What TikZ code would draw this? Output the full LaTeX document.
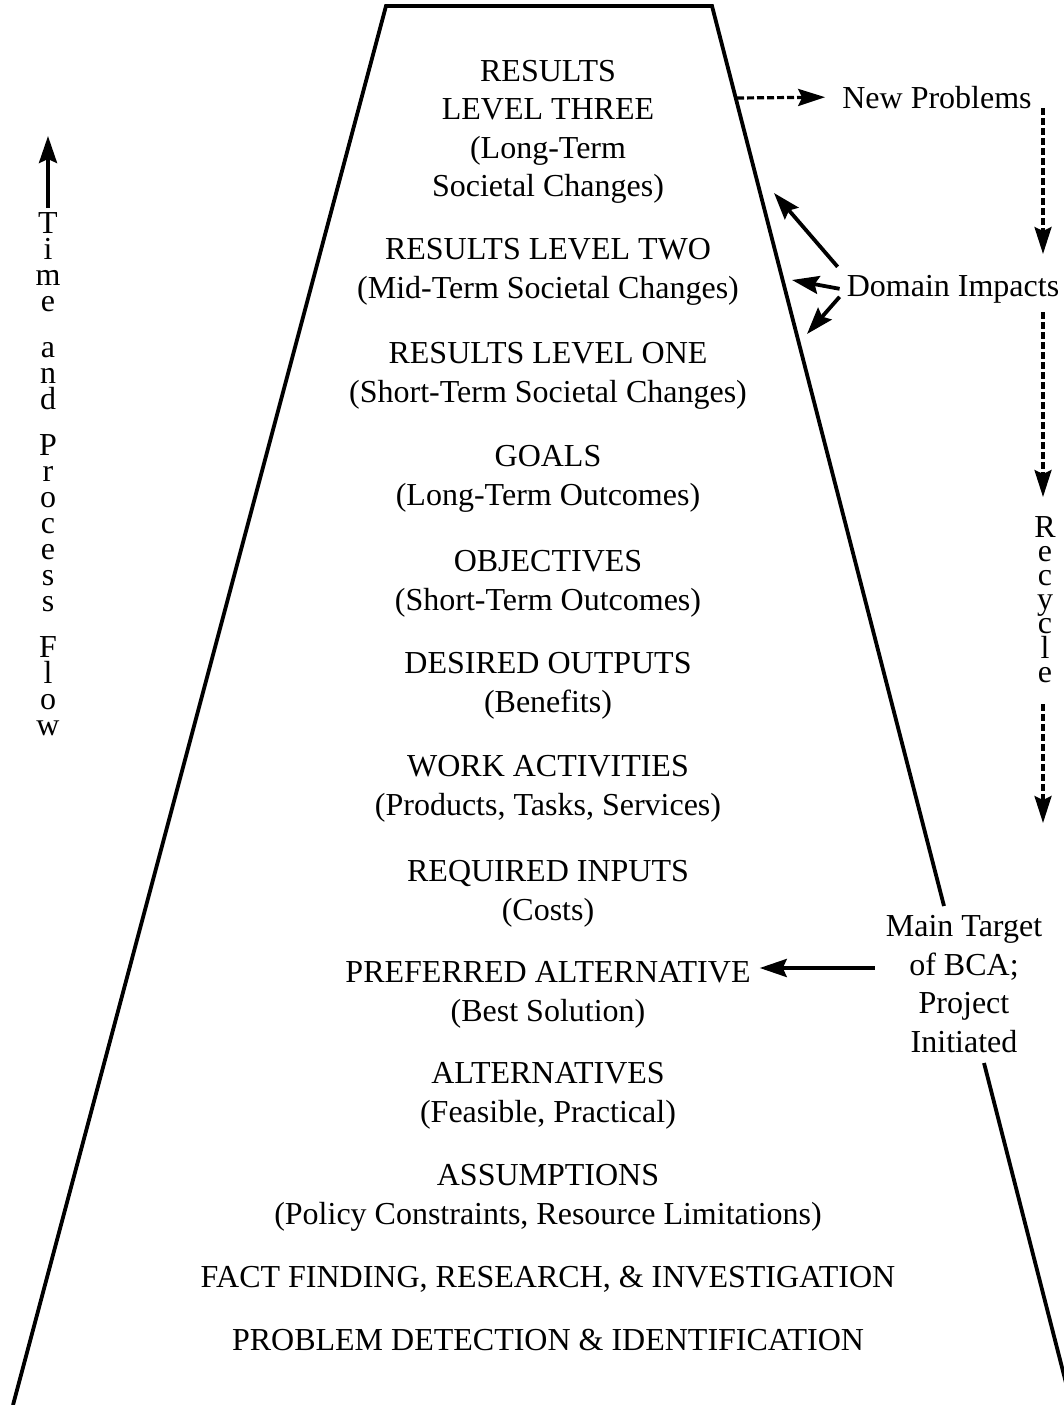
\documentclass[tikz,border=0pt]{standalone}
\usepackage{fontspec}
\setmainfont{Liberation Serif}
\usetikzlibrary{arrows.meta,calc}
\begin{document}
\begin{tikzpicture}[x=1pt,y=-1pt,
  every node/.style={font=\fontsize{32}{38.5}\selectfont, inner sep=0pt},
  level/.style={align=center},
  stack/.style={align=center, anchor=north},
  edge line/.style={line width=3.8pt, line join=miter},
  solid arrow/.style={line width=3.8pt, -{Stealth[length=27pt,width=18pt,inset=4pt]}},
  dash arrow/.style={line width=3.2pt, dash pattern=on 7pt off 3pt, -{Stealth[length=27pt,width=17pt,inset=4pt]}},
]
\useasboundingbox (0,0) rectangle (1064,1405);

% outline of the ladder
\coordinate (TL) at (386,6);
\coordinate (TR) at (712,6);
\coordinate (BL) at (13,1405);
\coordinate (RB) at (944,906);
\coordinate (RR) at (984,1063);
\coordinate (BR) at (1066,1383);
\draw[edge line] (BL) -- (TL) -- (TR) -- (RB);
\draw[edge line] (RR) -- (BR);

% rungs of the ladder
\node[level] (r3) at (548,132) {RESULTS\\LEVEL THREE\\(Long-Term\\Societal Changes)};
\node[level] (r2) at (548,272) {RESULTS LEVEL TWO\\(Mid-Term Societal Changes)};
\node[level] (r1) at (548,376) {RESULTS LEVEL ONE\\(Short-Term Societal Changes)};
\node[level] (goals) at (548,479) {GOALS\\(Long-Term Outcomes)};
\node[level] (obj) at (548,584) {OBJECTIVES\\(Short-Term Outcomes)};
\node[level] (outp) at (548,686) {DESIRED OUTPUTS\\(Benefits)};
\node[level] (work) at (548,789) {WORK ACTIVITIES\\(Products, Tasks, Services)};
\node[level] (inp) at (548,894) {REQUIRED INPUTS\\(Costs)};
\node[level] (pref) at (548,995) {PREFERRED ALTERNATIVE\\(Best Solution)};
\node[level] (alt) at (548,1096) {ALTERNATIVES\\(Feasible, Practical)};
\node[level] (assum) at (548,1198) {ASSUMPTIONS\\(Policy Constraints, Resource Limitations)};
\node[level] (fact) at (548,1279) {FACT FINDING, RESEARCH, \& INVESTIGATION};
\node[level] (prob) at (548,1340) {PROBLEM DETECTION \& IDENTIFICATION};

% time axis on the left
\node[stack, font=\fontsize{32}{26}\selectfont] (tpf) at (48,212)
  {T\\i\\m\\e\\[20pt]a\\n\\d\\[20pt]P\\r\\o\\c\\e\\s\\s\\[20pt]F\\l\\o\\w};
\coordinate (tTop) at (48,136);
\draw[solid arrow] ($(tpf.north)+(0,-4)$) -- (tTop);

% side labels
\node[anchor=base] (np) at (937,108) {New Problems};
\node[anchor=base] (di) at (953,296) {Domain Impacts};
\node[align=center] (mt) at (964,984) {Main Target\\of BCA;\\Project\\Initiated};
\node[stack, font=\fontsize{32}{24.2}\selectfont] (rec) at (1045,516) {R\\e\\c\\y\\c\\l\\e};

% new problems feed back
\coordinate (npS) at (737,98);
\draw[dash arrow, shorten >=17pt] (npS) -- (np.west);
\coordinate (v1a) at (1043,108);
\coordinate (v1b) at (1043,254);
\coordinate (v2a) at (1043,312);
\coordinate (v2b) at (1043,497);
\coordinate (v3a) at (1043,704);
\coordinate (v3b) at (1043,823);
\draw[dash arrow] (v1a) -- (v1b);
\draw[dash arrow] (v2a) -- (v2b);
\draw[dash arrow] (v3a) -- (v3b);

% domain impacts
\coordinate (di1) at (774,193);
\coordinate (di2) at (792,280);
\coordinate (di3) at (807,334);
\draw[solid arrow] ($(di.west)+(-9,-22)$) -- (di1);
\draw[solid arrow] ($(di.west)+(-7,0)$) -- (di2);
\draw[solid arrow] ($(di.west)+(-7,8)$) -- (di3);

% main target of the analysis
\path (pref.east) ++(9,-27) coordinate (prefTip);
\draw[solid arrow] ($(mt.west)+(-11,-16)$) -- (prefTip);
\end{tikzpicture}
\end{document}
